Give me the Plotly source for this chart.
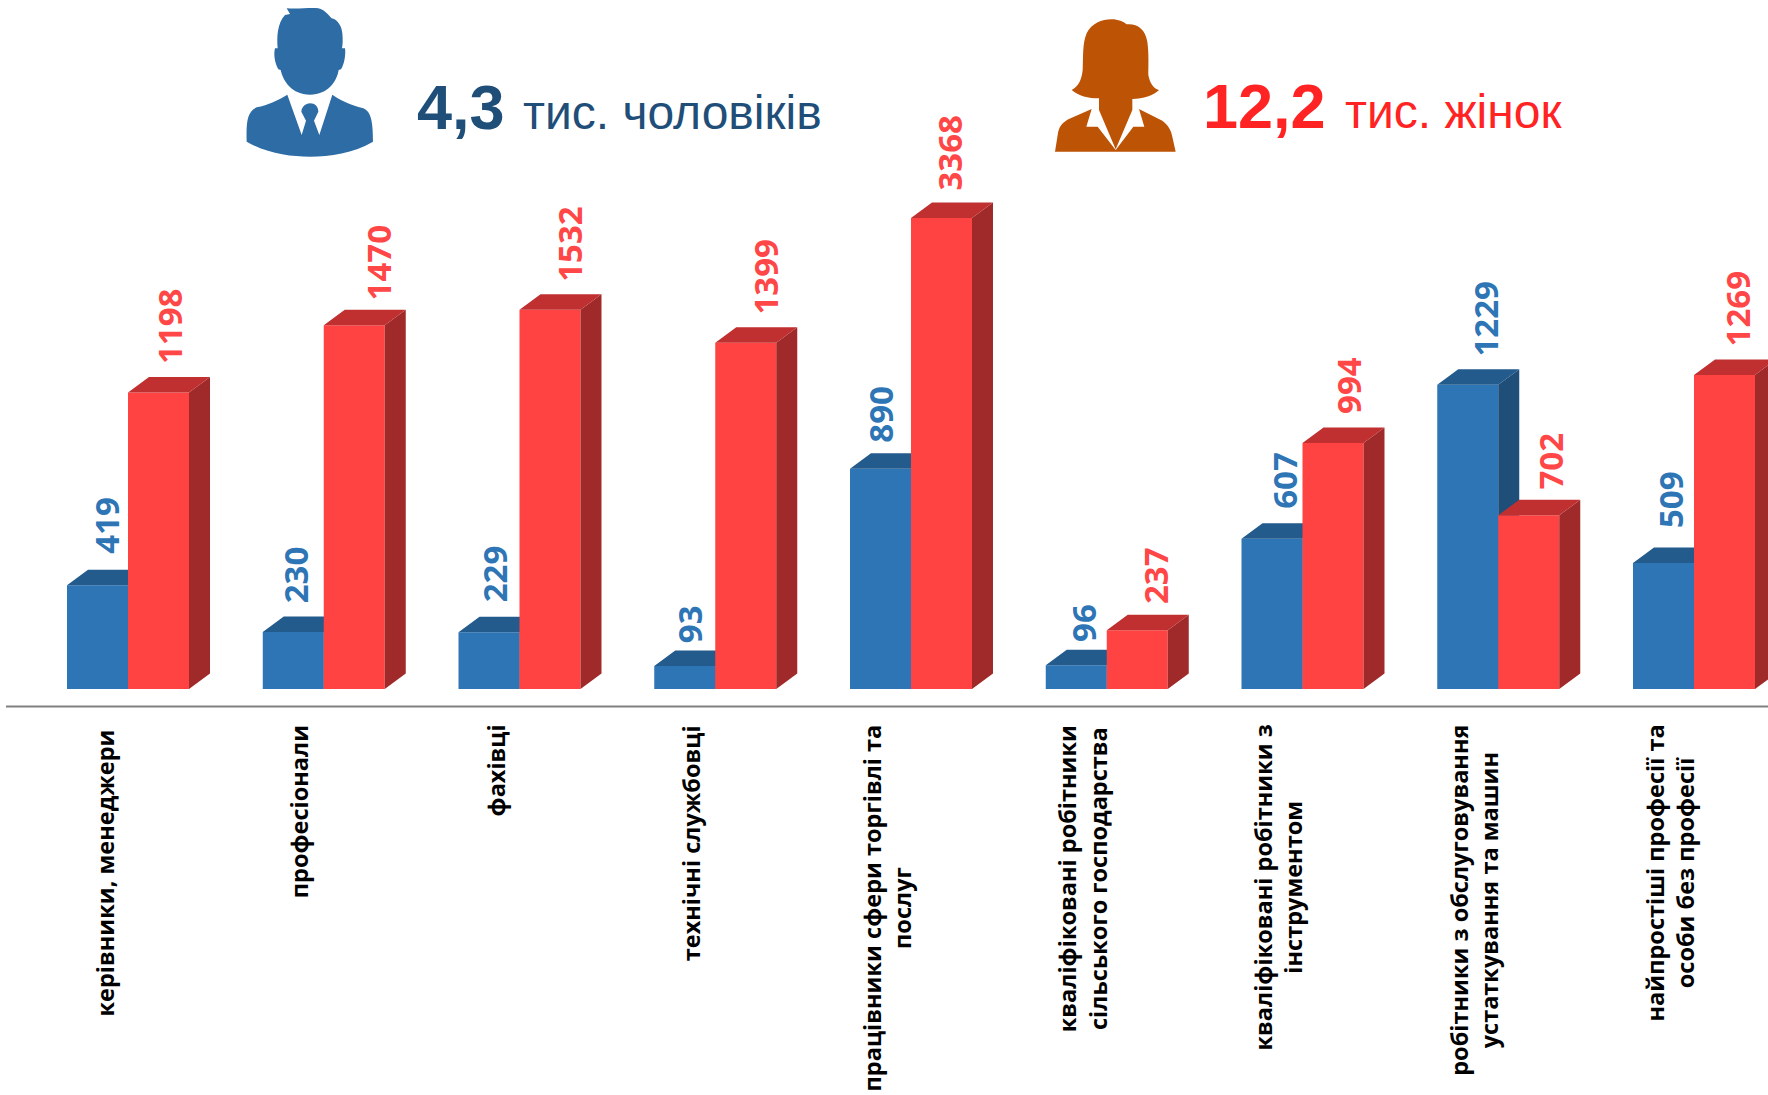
import re
import plotly.graph_objects as go

# ---- data ----
categories = [
    "керівники, менеджери",
    "професіонали",
    "фахівці",
    "технічні службовці",
    "працівники сфери торгівлі та<br>послуг",
    "кваліфіковані робітники<br>сільського господарства",
    "кваліфіковані робітники з<br>інструментом",
    "робітники з обслуговування<br>устаткування та машин",
    "найпростіші професії та<br>особи без професії",
]
male_values = [419, 230, 229, 93, 890, 96, 607, 1229, 509]
female_values = [1198, 1470, 1532, 1399, 3368, 237, 994, 702, 1269]
# The reference draws the 3368 column shorter than its label (truncated bar).
female_bar_heights = [1198, 1470, 1532, 1399, 1903, 237, 994, 702, 1269]

# ---- style / layout constants ----
W, H = 1768, 1095
BASE_PX = 689
PX_PER_UNIT = 0.2475
PITCH_PX = 195.75
CENTER0_PX = 128
BAR_W = 61 / PITCH_PX
DX = 21 / PITCH_PX
DY = 15.5 / PX_PER_UNIT

BLUE, BLUE_TOP, BLUE_SIDE = "#2E75B6", "#235B8C", "#1F4E79"
RED, RED_TOP, RED_SIDE = "#FF4343", "#C03030", "#A02A2A"

# nudges of the rotated value labels, px
male_label_shift = [9, 2, 5, 5, 0, 7, 13, 18, 7]
female_label_shift = [11, 24, 20, 20, 8, 19, 16, 22, 13]
male_label_lift = [15, 12, 13, 6, 9.5, 7, 13, 12, 18.5]
female_label_lift = [12, 8, 11, 12, 11, 9.5, 12, 9.5, 12]
category_top_px = [729, 724, 724, 724, 724, 724, 724, 724, 724]


def px(x):
    return x / W


def py(y):
    return (BASE_PX - y) / BASE_PX


def faces(values, centers):
    sx, sy, tx, ty = [], [], [], []
    for c, v in zip(centers, values):
        l, r = c - BAR_W / 2, c + BAR_W / 2
        sx += [r, r + DX, r + DX, r, r, None]
        sy += [0, DY, v + DY, v, 0, None]
        tx += [l, l + DX, r + DX, r, l, None]
        ty += [v, v + DY, v + DY, v, v, None]
    return sx, sy, tx, ty


def add_series(fig, values, centers, front, top, side, yaxis):
    sx, sy, tx, ty = faces(values, centers)
    for xs, ys, col in ((sx, sy, side), (tx, ty, top)):
        fig.add_trace(go.Scatter(x=xs, y=ys, mode="lines", fill="toself", fillcolor=col,
                                 line=dict(width=0, color=col), yaxis=yaxis,
                                 hoverinfo="skip", showlegend=False))
    fig.add_trace(go.Bar(x=centers, y=values, width=BAR_W, marker=dict(color=front, line=dict(width=0)),
                         yaxis=yaxis, showlegend=False))


groups = list(range(len(categories)))
male_x = [g - BAR_W / 2 for g in groups]
female_x = [g + BAR_W / 2 for g in groups]

fig = go.Figure()
add_series(fig, male_values, male_x, BLUE, BLUE_TOP, BLUE_SIDE, "y")
add_series(fig, female_bar_heights, female_x, RED, RED_TOP, RED_SIDE, "y2")

annotations = []
for xs, hs, labels, col, shifts, lifts in (
        (male_x, male_values, male_values, BLUE, male_label_shift, male_label_lift),
        (female_x, female_bar_heights, female_values, "#FF4747", female_label_shift, female_label_lift)):
    for x, h, lab, sh, li in zip(xs, hs, labels, shifts, lifts):
        annotations.append(dict(x=x, y=h + DY, xref="x", yref="y", text=str(lab), textangle=-90,
                                showarrow=False, xanchor="center", yanchor="bottom",
                                xshift=sh, yshift=li, borderpad=0,
                                font=dict(family="Open Sans", size=33, color=col, weight="bold")))

for g, cat, top in zip(groups, categories, category_top_px):
    annotations.append(dict(x=g, y=py(top), xref="x", yref="paper", text=cat, textangle=-90,
                            showarrow=False, xanchor="center", yanchor="top", align="center",
                            xshift=-24, borderpad=0,
                            font=dict(family="Open Sans", size=23.5, color="#000000", weight="bold")))


def head(x, baseline, text, size, col, bold=False):
    return dict(x=px(x), y=py(baseline - size * 0.33), xref="paper", yref="paper", text=text,
                showarrow=False, xanchor="left", yanchor="middle", borderpad=0,
                font=dict(family="Liberation Sans", size=size, color=col,
                          weight="bold" if bold else "normal"))


annotations += [
    head(416, 128, "4,3", 63, "#1F4E79", True),
    head(522, 128, "тис. чоловіків", 48, "#1F4E79"),
    head(1202, 127, "12,2", 63, "#FF2323", True),
    head(1344, 127, "тис. жінок", 48, "#FF2323"),
]


def icon_path(path, ox, oy):
    nums = iter(re.findall(r"[A-Z]|-?\d+\.?\d*", path))
    out, is_x = [], True
    for tok in nums:
        if tok.isalpha():
            out.append(tok)
            is_x = True
        else:
            v = float(tok) / 3
            out.append(f"{px(ox + v):.5f}" if is_x else f"{py(oy + v):.5f}")
            is_x = not is_x
    return " ".join(out)


MAN = [
    "M140 25 C175 28 210 22 235 25 C255 30 265 45 275 55 C295 60 305 80 307 100 C309 120 308 135 306 145 "
    "L315 145 C318 165 312 195 303 208 L296 210 C290 245 265 283 210 284 C155 283 130 245 122 210 L115 208 "
    "C105 190 100 165 105 145 L113 145 C110 110 112 70 135 45 L150 42 Z",
    "M142 284 L185 405 L198 362 L184 335 C185 318 200 310 210 310 C225 310 235 320 235 335 L222 362 L238 405 "
    "L277 284 C300 300 330 315 370 325 C392 335 399 360 399 425 C340 460 270 470 210 470 C150 470 80 460 20 425 "
    "C18 360 23 335 50 322 C85 315 115 300 142 284 Z",
]
WOMAN = [
    "M200 28 C220 28 235 35 245 43 C275 40 300 55 307 95 C312 130 310 170 310 195 C315 220 325 235 342 240 "
    "C325 258 295 265 262 267 L262 300 L212 418 L162 300 L162 265 C130 265 100 258 80 240 C100 230 110 210 113 180 "
    "C115 140 112 100 125 70 C140 40 170 28 200 28 Z",
    "M30 425 L38 375 C42 350 50 340 70 328 L140 297 L124 350 L158 350 L212 420 L265 350 L298 350 L282 297 "
    "L352 332 C370 345 378 360 382 380 L392 425 Z",
]

shapes = [dict(type="line", xref="paper", yref="paper", x0=px(6), x1=1, y0=py(706.5), y1=py(706.5),
               line=dict(color="#808080", width=2))]
for p in MAN:
    shapes.append(dict(type="path", xref="paper", yref="paper", path=icon_path(p, 240, 0),
                       fillcolor="#2E6CA6", line=dict(width=0)))
for p in WOMAN:
    shapes.append(dict(type="path", xref="paper", yref="paper", path=icon_path(p, 1045, 10),
                       fillcolor="#BD5304", line=dict(width=0)))

y_range = [0, BASE_PX / PX_PER_UNIT]
fig.update_layout(
    width=W, height=H, margin=dict(l=0, r=0, t=0, b=H - BASE_PX, pad=0),
    paper_bgcolor="white", plot_bgcolor="rgba(0,0,0,0)", barmode="overlay", showlegend=False,
    xaxis=dict(range=[-CENTER0_PX / PITCH_PX, (W - CENTER0_PX) / PITCH_PX], visible=False, fixedrange=True),
    yaxis=dict(range=y_range, visible=False, fixedrange=True),
    yaxis2=dict(range=y_range, visible=False, overlaying="y", fixedrange=True),
    annotations=annotations, shapes=shapes,
)
fig.write_html("out.html", config=dict(displayModeBar=False),
               post_script="document.body.style.margin='0';document.body.style.overflow='hidden';")
